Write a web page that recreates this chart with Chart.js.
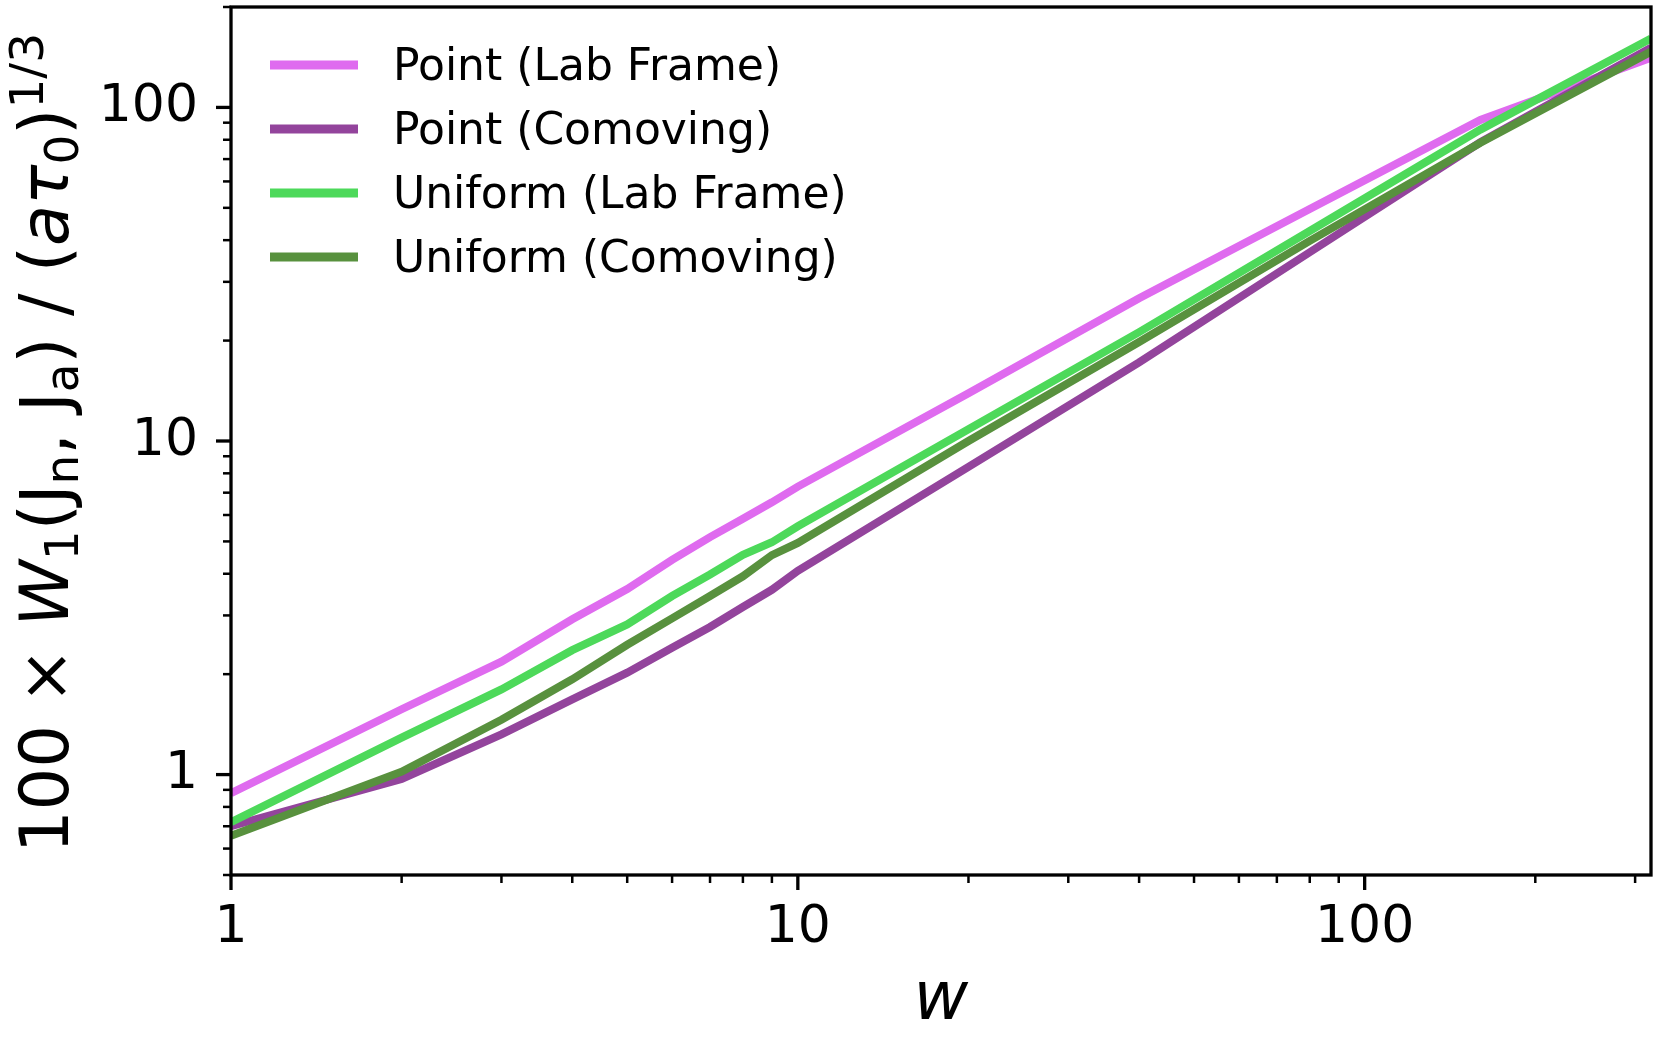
<!DOCTYPE html>
<html>
<head>
<meta charset="utf-8">
<script src="https://cdn.jsdelivr.net/npm/chart.js@4.4.1/dist/chart.umd.min.js"></script>
<style>
html, body { margin: 0; padding: 0; background: #fff; }
#wrap { width: 1659px; height: 1046px; }
</style>
</head>
<body>
<div id="wrap"><canvas id="myChart"></canvas></div>
<script>
// data
var wValues = [1, 2, 3, 4, 5, 6, 7, 8, 9, 10, 20, 40, 80, 160, 320];
var pointLab = [0.88, 1.57, 2.18, 2.92, 3.60, 4.40, 5.15, 5.85, 6.55, 7.30, 13.9, 26.8, 49.6, 91.7, 141];
var pointComoving = [0.70, 0.97, 1.32, 1.68, 2.02, 2.40, 2.77, 3.18, 3.58, 4.08, 8.36, 17.2, 36.8, 78.6, 151];
var uniformLab = [0.72, 1.29, 1.80, 2.36, 2.82, 3.43, 3.98, 4.56, 4.97, 5.55, 10.85, 21.2, 42.6, 85.8, 161];
var uniformComoving = [0.655, 1.02, 1.46, 1.93, 2.45, 2.94, 3.43, 3.93, 4.55, 4.95, 10.0, 19.8, 39.8, 78.4, 147];
var seriesNames = ["Point (Lab Frame)", "Point (Comoving)", "Uniform (Lab Frame)", "Uniform (Comoving)"];
var seriesColors = ['#df6bef', '#93449c', '#4dd95a', '#58913e'];
var xTickLabels = [1, 10, 100];
var yTickLabels = [1, 10, 100];

var FONT = "DejaVu Sans";

function toPoints(arr){
    return wValues.map(function(w, i){ return {x: w, y: arr[i]}; });
}

function makeSet(i, arr){
    return {
        label: seriesNames[i],
        data: toPoints(arr),
        borderColor: seriesColors[i],
        backgroundColor: seriesColors[i],
        borderWidth: 8,
        pointRadius: 0,
        tension: 0,
        fill: false,
        clip: 0,
        order: 3 - i
    };
}

function isWholeTick(v){
    var p = Math.pow(10, Math.floor(Math.log10(v) + 1e-9));
    var s = v / p;
    return Math.abs(s - Math.round(s)) < 1e-6;
}

// frame, tick marks, legend and the y title
var decorations = {
    id: 'decorations',
    afterDraw: function(chart){
        var ctx = chart.ctx;
        var a = chart.chartArea;
        ctx.save();
        ctx.strokeStyle = '#000';

        // tick marks
        var xs = chart.scales.x, ys = chart.scales.y;
        xs.ticks.forEach(function(t){
            if (!isWholeTick(t.value)) return;
            var major = xTickLabels.indexOf(t.value) >= 0;
            var px = xs.getPixelForValue(t.value);
            ctx.lineWidth = major ? 3.3 : 2.5;
            ctx.beginPath();
            ctx.moveTo(px, a.bottom);
            ctx.lineTo(px, a.bottom + (major ? 15 : 8));
            ctx.stroke();
        });
        ys.ticks.forEach(function(t){
            if (!isWholeTick(t.value)) return;
            var major = yTickLabels.indexOf(t.value) >= 0;
            var py = ys.getPixelForValue(t.value);
            ctx.lineWidth = major ? 3.3 : 2.5;
            ctx.beginPath();
            ctx.moveTo(a.left, py);
            ctx.lineTo(a.left - (major ? 15 : 8), py);
            ctx.stroke();
        });

        // axes box
        ctx.lineWidth = 3.3;
        ctx.strokeRect(a.left, a.top, a.right - a.left, a.bottom - a.top);

        // legend
        ctx.font = '44px "' + FONT + '"';
        ctx.textBaseline = 'alphabetic';
        ctx.textAlign = 'left';
        chart.data.datasets.forEach(function(ds, i){
            var cy = 65 + i * 64;
            ctx.strokeStyle = ds.borderColor;
            ctx.lineWidth = 9;
            ctx.beginPath();
            ctx.moveTo(270, cy);
            ctx.lineTo(358, cy);
            ctx.stroke();
            ctx.fillStyle = '#000';
            ctx.fillText(ds.label, 393, cy + 15);
        });

        // y axis title with sub/superscripts
        var big = 67, small = 47;
        var parts = [
            {t: '100 \u00d7 ', s: big, st: '', dy: 0},
            {t: 'W', s: big, st: 'italic ', dy: 0},
            {t: '1', s: small, st: '', dy: 10},
            {t: '(J', s: big, st: '', dy: 0},
            {t: 'n', s: small, st: '', dy: 10},
            {t: ', J', s: big, st: '', dy: 0},
            {t: 'a', s: small, st: '', dy: 10},
            {t: ') / (', s: big, st: '', dy: 0},
            {t: 'a\u03c4', s: big, st: 'italic ', dy: 0},
            {t: '0', s: small, st: '', dy: 10},
            {t: ')', s: big, st: '', dy: 0},
            {t: '1/3', s: small, st: '', dy: -25}
        ];
        var total = 0;
        parts.forEach(function(p){
            ctx.font = p.st + p.s + 'px "' + FONT + '"';
            p.w = ctx.measureText(p.t).width;
            total += p.w;
        });
        ctx.translate(68, (a.top + a.bottom) / 2 + 2);
        ctx.rotate(-Math.PI / 2);
        ctx.fillStyle = '#000';
        var x = -total / 2;
        parts.forEach(function(p){
            ctx.font = p.st + p.s + 'px "' + FONT + '"';
            ctx.fillText(p.t, x, p.dy);
            x += p.w;
        });
        ctx.restore();
    }
};

var ctx = document.getElementById("myChart").getContext('2d');
var myChart = new Chart(ctx, {
    type: 'line',
    data: {
        datasets: [
            makeSet(0, pointLab),
            makeSet(1, pointComoving),
            makeSet(2, uniformLab),
            makeSet(3, uniformComoving)
        ]
    },
    options: {
        responsive: true,
        maintainAspectRatio: false,
        animation: false,
        devicePixelRatio: 1,
        layout: { padding: { top: 7, right: 8, left: 0, bottom: 0 } },
        plugins: {
            legend: { display: false },
            tooltip: { enabled: false }
        },
        scales: {
            x: {
                type: 'logarithmic',
                min: 1,
                max: 320,
                grid: { display: false, drawTicks: false },
                border: { display: false },
                ticks: {
                    autoSkip: false,
                    maxRotation: 0,
                    padding: 22,
                    color: '#000',
                    font: { family: FONT, size: 52 },
                    callback: function(v){ return xTickLabels.indexOf(v) >= 0 ? String(v) : ''; }
                },
                title: {
                    display: true,
                    text: 'w',
                    color: '#000',
                    font: { family: FONT, size: 67, style: 'italic' },
                    padding: { top: 0, bottom: 4 }
                },
                afterFit: function(s){
                    s.height = 171;
                    s.paddingLeft = 0; s.paddingRight = 0;
                    s.paddingTop = 0; s.paddingBottom = 0;
                }
            },
            y: {
                type: 'logarithmic',
                min: 0.5,
                max: 200,
                grid: { display: false, drawTicks: false },
                border: { display: false },
                ticks: {
                    autoSkip: false,
                    padding: 33,
                    color: '#000',
                    font: { family: FONT, size: 52 },
                    callback: function(v){ return yTickLabels.indexOf(v) >= 0 ? String(v) : ''; }
                },
                afterFit: function(s){
                    s.width = 231;
                    s.paddingLeft = 0; s.paddingRight = 0;
                    s.paddingTop = 0; s.paddingBottom = 0;
                }
            }
        }
    },
    plugins: [decorations]
});
</script>
</body>
</html>
